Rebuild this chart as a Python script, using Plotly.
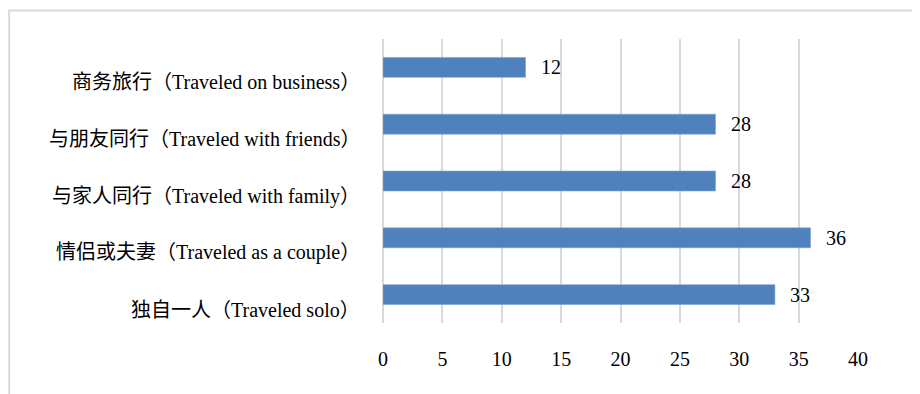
import plotly.graph_objects as go

categories = [
    "独自一人（Traveled solo）",
    "情侣或夫妻（Traveled as a couple）",
    "与家人同行（Traveled with family）",
    "与朋友同行（Traveled with friends）",
    "商务旅行（Traveled on business）",
]
values = [33, 36, 28, 28, 12]
x_ticks = [0, 5, 10, 15, 20, 25, 30, 35, 40]

FONT = "Liberation Serif, 'Times New Roman', 'Noto Sans CJK SC', serif"
GRID = "#D9D9D9"

fig = go.Figure()
fig.add_trace(go.Bar(
    x=values, y=categories, orientation="h",
    marker=dict(color="#4F81BD", line=dict(color="#7FA3D1", width=0.6)),
    hoverinfo="x+y",
))

for v, c in zip(values, categories):
    fig.add_annotation(x=v, y=c, text=str(v), showarrow=False,
                       xanchor="left", xshift=13,
                       font=dict(family=FONT, size=20, color="#000000"))
    # category labels (sit slightly below the bar centre, as in the reference)
    fig.add_annotation(xref="paper", x=0, y=c, text=c, showarrow=False,
                       xanchor="right", xshift=-21, yshift=-15,
                       font=dict(family=FONT, size=20, color="#000000"))

fig.add_shape(type="rect", xref="paper", yref="paper",
              x0=-0.787, x1=1.3, y0=-0.5, y1=1.10,
              line=dict(color=GRID, width=2), layer="below")

fig.update_layout(
    width=912, height=386,
    margin=dict(l=375, r=62, t=31, b=71),
    paper_bgcolor="white", plot_bgcolor="white",
    bargap=0.65, showlegend=False,
    font=dict(family=FONT, size=20, color="#000000"),
    xaxis=dict(range=[0, 40], tickvals=x_ticks, showgrid=True,
               gridcolor=GRID, gridwidth=2, zeroline=True,
               zerolinecolor=GRID, zerolinewidth=2, showline=False,
               ticks="", ticklabelstandoff=22,
               tickfont=dict(family=FONT, size=20)),
    yaxis=dict(showgrid=False, showline=False, ticks="",
               showticklabels=False, automargin=False),
)

fig.write_html("out.html")
